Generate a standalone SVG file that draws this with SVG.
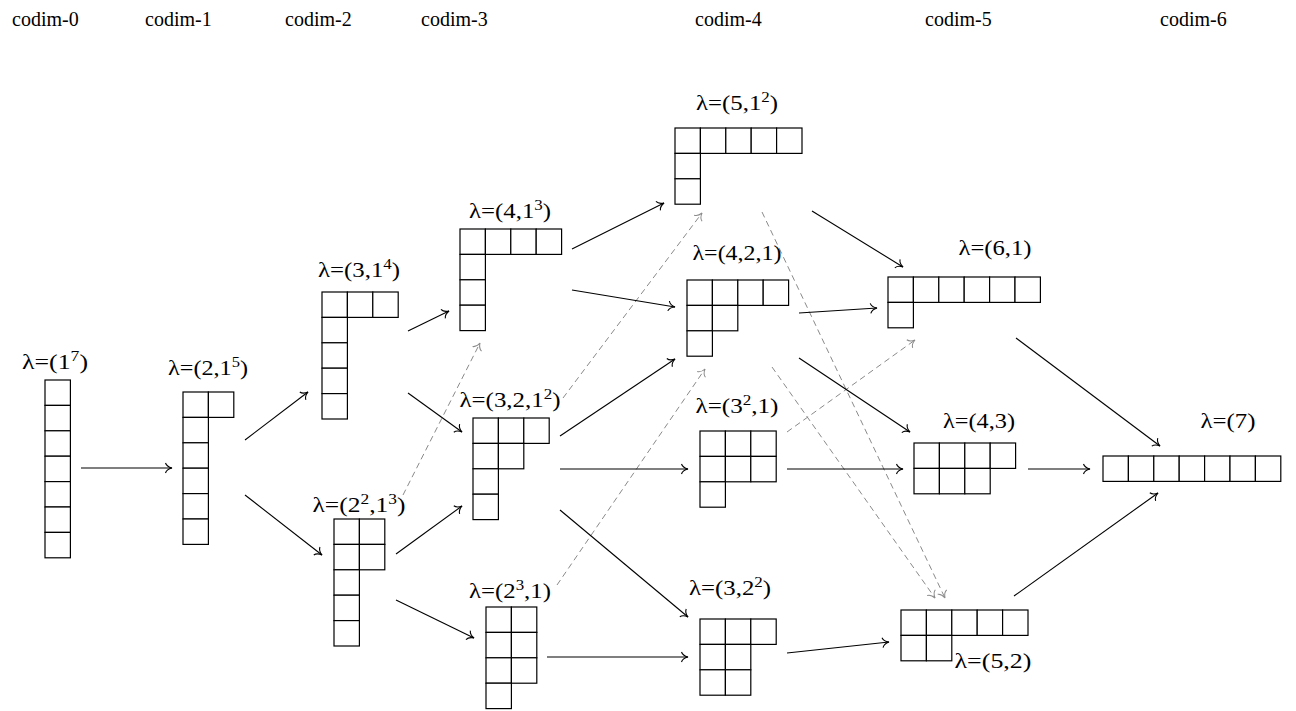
<svg xmlns="http://www.w3.org/2000/svg" width="1296" height="711" viewBox="0 0 1296 711">
<style>
  .c { fill: #fff; stroke: #000; stroke-width: 1.2; }
  .t { font-size: 22px; fill: #000; }
  .h { font-size: 20px; fill: #000; }
  .s { font-size: 15px; }
  .e { fill: none; stroke: #000; stroke-width: 1.1; marker-end: url(#ah); }
  .d { fill: none; stroke: #8a8a8a; stroke-width: 1; stroke-dasharray: 6 4; marker-end: url(#ahg); }
</style>
<defs>
  <marker id="ah" viewBox="-8 -7 10 14" markerUnits="userSpaceOnUse" markerWidth="10" markerHeight="14" refX="0" refY="0" orient="auto">
    <path d="M-6.5,-5 C-5.5,-1.8 -2.5,-0.6 0,0 C-2.5,0.6 -5.5,1.8 -6.5,5" fill="none" stroke="#000" stroke-width="1.1"/>
  </marker>
  <marker id="ahg" viewBox="-8 -7 10 14" markerUnits="userSpaceOnUse" markerWidth="10" markerHeight="14" refX="0" refY="0" orient="auto">
    <path d="M-6.5,-5 C-5.5,-1.8 -2.5,-0.6 0,0 C-2.5,0.6 -5.5,1.8 -6.5,5" fill="none" stroke="#8a8a8a" stroke-width="1"/>
  </marker>
</defs>
<rect width="1296" height="711" fill="#fff"/>

<g id="headers" class="h" font-family="'Liberation Serif', 'DejaVu Serif', serif">
  <text x="12" y="26">codim-0</text>
  <text x="145" y="26">codim-1</text>
  <text x="285" y="26">codim-2</text>
  <text x="421" y="26">codim-3</text>
  <text x="695" y="26">codim-4</text>
  <text x="925" y="26">codim-5</text>
  <text x="1160" y="26">codim-6</text>
</g>

<g id="connectors">
  <g id="dashed">
    <line class="d" x1="403" y1="495" x2="480" y2="343"/>
    <line class="d" x1="563" y1="398" x2="702" y2="213"/>
    <line class="d" x1="557" y1="585" x2="705" y2="369"/>
    <line class="d" x1="762" y1="212" x2="945" y2="598"/>
    <line class="d" x1="772" y1="367" x2="935" y2="598"/>
    <line class="d" x1="787" y1="432" x2="915" y2="340"/>
  </g>
  <g id="solid">
    <line class="e" x1="81" y1="468" x2="172" y2="468"/>
    <line class="e" x1="245" y1="440" x2="308" y2="392"/>
    <line class="e" x1="245" y1="495" x2="322" y2="555"/>
    <line class="e" x1="408" y1="331" x2="449" y2="311"/>
    <line class="e" x1="408" y1="393" x2="462" y2="432"/>
    <line class="e" x1="396" y1="554" x2="462" y2="506"/>
    <line class="e" x1="396" y1="600" x2="474" y2="638"/>
    <line class="e" x1="572" y1="249" x2="664" y2="203"/>
    <line class="e" x1="572" y1="290" x2="675" y2="307"/>
    <line class="e" x1="560" y1="436" x2="675" y2="359"/>
    <line class="e" x1="560" y1="469" x2="688" y2="469"/>
    <line class="e" x1="560" y1="510" x2="688" y2="617"/>
    <line class="e" x1="547" y1="657" x2="688" y2="657"/>
    <line class="e" x1="812" y1="211" x2="903" y2="267"/>
    <line class="e" x1="799" y1="313" x2="877" y2="308"/>
    <line class="e" x1="799" y1="358" x2="910" y2="432"/>
    <line class="e" x1="787" y1="469" x2="903" y2="469"/>
    <line class="e" x1="787" y1="653" x2="889" y2="642"/>
    <line class="e" x1="1016" y1="338" x2="1160" y2="446"/>
    <line class="e" x1="1028" y1="469" x2="1090" y2="469"/>
    <line class="e" x1="1014" y1="596" x2="1158" y2="493"/>
  </g>
</g>

<g id="nodes" font-family="'Liberation Serif', 'DejaVu Serif', serif">
<g id="n-1-7">
  <text class="t" x="55" y="369" text-anchor="middle" textLength="66" lengthAdjust="spacingAndGlyphs">λ=(1<tspan class="s" dy="-8">7</tspan><tspan dy="8">)</tspan></text>
  <rect class="c" x="45" y="380" width="25.4" height="25.4"/>
  <rect class="c" x="45" y="405.4" width="25.4" height="25.4"/>
  <rect class="c" x="45" y="430.8" width="25.4" height="25.4"/>
  <rect class="c" x="45" y="456.2" width="25.4" height="25.4"/>
  <rect class="c" x="45" y="481.6" width="25.4" height="25.4"/>
  <rect class="c" x="45" y="507" width="25.4" height="25.4"/>
  <rect class="c" x="45" y="532.4" width="25.4" height="25.4"/>
</g>

<g id="n-2-1-5">
  <text class="t" x="208" y="375" text-anchor="middle" textLength="80" lengthAdjust="spacingAndGlyphs">λ=(2,1<tspan class="s" dy="-8">5</tspan><tspan dy="8">)</tspan></text>
  <rect class="c" x="183" y="392" width="25.4" height="25.4"/>
  <rect class="c" x="208.4" y="392" width="25.4" height="25.4"/>
  <rect class="c" x="183" y="417.4" width="25.4" height="25.4"/>
  <rect class="c" x="183" y="442.8" width="25.4" height="25.4"/>
  <rect class="c" x="183" y="468.2" width="25.4" height="25.4"/>
  <rect class="c" x="183" y="493.6" width="25.4" height="25.4"/>
  <rect class="c" x="183" y="519" width="25.4" height="25.4"/>
</g>

<g id="n-3-1-4">
  <text class="t" x="359" y="277" text-anchor="middle" textLength="82" lengthAdjust="spacingAndGlyphs">λ=(3,1<tspan class="s" dy="-8">4</tspan><tspan dy="8">)</tspan></text>
  <rect class="c" x="322" y="292" width="25.4" height="25.4"/>
  <rect class="c" x="347.4" y="292" width="25.4" height="25.4"/>
  <rect class="c" x="372.8" y="292" width="25.4" height="25.4"/>
  <rect class="c" x="322" y="317.4" width="25.4" height="25.4"/>
  <rect class="c" x="322" y="342.8" width="25.4" height="25.4"/>
  <rect class="c" x="322" y="368.2" width="25.4" height="25.4"/>
  <rect class="c" x="322" y="393.6" width="25.4" height="25.4"/>
</g>

<g id="n-4-1-3">
  <text class="t" x="510" y="218" text-anchor="middle" textLength="82" lengthAdjust="spacingAndGlyphs">λ=(4,1<tspan class="s" dy="-8">3</tspan><tspan dy="8">)</tspan></text>
  <rect class="c" x="460" y="229" width="25.4" height="25.4"/>
  <rect class="c" x="485.4" y="229" width="25.4" height="25.4"/>
  <rect class="c" x="510.8" y="229" width="25.4" height="25.4"/>
  <rect class="c" x="536.2" y="229" width="25.4" height="25.4"/>
  <rect class="c" x="460" y="254.4" width="25.4" height="25.4"/>
  <rect class="c" x="460" y="279.8" width="25.4" height="25.4"/>
  <rect class="c" x="460" y="305.2" width="25.4" height="25.4"/>
</g>

<g id="n-2-2-1-3">
  <text class="t" x="359" y="512" text-anchor="middle" textLength="93" lengthAdjust="spacingAndGlyphs">λ=(2<tspan class="s" dy="-8">2</tspan><tspan dy="8">,1</tspan><tspan class="s" dy="-8">3</tspan><tspan dy="8">)</tspan></text>
  <rect class="c" x="334" y="519" width="25.4" height="25.4"/>
  <rect class="c" x="359.4" y="519" width="25.4" height="25.4"/>
  <rect class="c" x="334" y="544.4" width="25.4" height="25.4"/>
  <rect class="c" x="359.4" y="544.4" width="25.4" height="25.4"/>
  <rect class="c" x="334" y="569.8" width="25.4" height="25.4"/>
  <rect class="c" x="334" y="595.2" width="25.4" height="25.4"/>
  <rect class="c" x="334" y="620.6" width="25.4" height="25.4"/>
</g>

<g id="n-3-2-1-2">
  <text class="t" x="510" y="407" text-anchor="middle" textLength="101" lengthAdjust="spacingAndGlyphs">λ=(3,2,1<tspan class="s" dy="-8">2</tspan><tspan dy="8">)</tspan></text>
  <rect class="c" x="473" y="418" width="25.4" height="25.4"/>
  <rect class="c" x="498.4" y="418" width="25.4" height="25.4"/>
  <rect class="c" x="523.8" y="418" width="25.4" height="25.4"/>
  <rect class="c" x="473" y="443.4" width="25.4" height="25.4"/>
  <rect class="c" x="498.4" y="443.4" width="25.4" height="25.4"/>
  <rect class="c" x="473" y="468.8" width="25.4" height="25.4"/>
  <rect class="c" x="473" y="494.2" width="25.4" height="25.4"/>
</g>

<g id="n-2-3-1">
  <text class="t" x="510" y="598" text-anchor="middle" textLength="82" lengthAdjust="spacingAndGlyphs">λ=(2<tspan class="s" dy="-8">3</tspan><tspan dy="8">,1)</tspan></text>
  <rect class="c" x="486" y="607" width="25.4" height="25.4"/>
  <rect class="c" x="511.4" y="607" width="25.4" height="25.4"/>
  <rect class="c" x="486" y="632.4" width="25.4" height="25.4"/>
  <rect class="c" x="511.4" y="632.4" width="25.4" height="25.4"/>
  <rect class="c" x="486" y="657.8" width="25.4" height="25.4"/>
  <rect class="c" x="511.4" y="657.8" width="25.4" height="25.4"/>
  <rect class="c" x="486" y="683.2" width="25.4" height="25.4"/>
</g>

<g id="n-5-1-2">
  <text class="t" x="737" y="110" text-anchor="middle" textLength="82" lengthAdjust="spacingAndGlyphs">λ=(5,1<tspan class="s" dy="-8">2</tspan><tspan dy="8">)</tspan></text>
  <rect class="c" x="675" y="128" width="25.4" height="25.4"/>
  <rect class="c" x="700.4" y="128" width="25.4" height="25.4"/>
  <rect class="c" x="725.8" y="128" width="25.4" height="25.4"/>
  <rect class="c" x="751.2" y="128" width="25.4" height="25.4"/>
  <rect class="c" x="776.6" y="128" width="25.4" height="25.4"/>
  <rect class="c" x="675" y="153.4" width="25.4" height="25.4"/>
  <rect class="c" x="675" y="178.8" width="25.4" height="25.4"/>
</g>

<g id="n-4-2-1">
  <text class="t" x="737" y="260" text-anchor="middle" textLength="89" lengthAdjust="spacingAndGlyphs">λ=(4,2,1)</text>
  <rect class="c" x="687" y="280" width="25.4" height="25.4"/>
  <rect class="c" x="712.4" y="280" width="25.4" height="25.4"/>
  <rect class="c" x="737.8" y="280" width="25.4" height="25.4"/>
  <rect class="c" x="763.2" y="280" width="25.4" height="25.4"/>
  <rect class="c" x="687" y="305.4" width="25.4" height="25.4"/>
  <rect class="c" x="712.4" y="305.4" width="25.4" height="25.4"/>
  <rect class="c" x="687" y="330.8" width="25.4" height="25.4"/>
</g>

<g id="n-3-2-1">
  <text class="t" x="737" y="413" text-anchor="middle" textLength="83" lengthAdjust="spacingAndGlyphs">λ=(3<tspan class="s" dy="-8">2</tspan><tspan dy="8">,1)</tspan></text>
  <rect class="c" x="700" y="431" width="25.4" height="25.4"/>
  <rect class="c" x="725.4" y="431" width="25.4" height="25.4"/>
  <rect class="c" x="750.8" y="431" width="25.4" height="25.4"/>
  <rect class="c" x="700" y="456.4" width="25.4" height="25.4"/>
  <rect class="c" x="725.4" y="456.4" width="25.4" height="25.4"/>
  <rect class="c" x="750.8" y="456.4" width="25.4" height="25.4"/>
  <rect class="c" x="700" y="481.8" width="25.4" height="25.4"/>
</g>

<g id="n-3-2-2">
  <text class="t" x="730" y="595" text-anchor="middle" textLength="82" lengthAdjust="spacingAndGlyphs">λ=(3,2<tspan class="s" dy="-8">2</tspan><tspan dy="8">)</tspan></text>
  <rect class="c" x="700" y="619" width="25.4" height="25.4"/>
  <rect class="c" x="725.4" y="619" width="25.4" height="25.4"/>
  <rect class="c" x="750.8" y="619" width="25.4" height="25.4"/>
  <rect class="c" x="700" y="644.4" width="25.4" height="25.4"/>
  <rect class="c" x="725.4" y="644.4" width="25.4" height="25.4"/>
  <rect class="c" x="700" y="669.8" width="25.4" height="25.4"/>
  <rect class="c" x="725.4" y="669.8" width="25.4" height="25.4"/>
</g>

<g id="n-6-1">
  <text class="t" x="995" y="255" text-anchor="middle" textLength="73" lengthAdjust="spacingAndGlyphs">λ=(6,1)</text>
  <rect class="c" x="888" y="277" width="25.4" height="25.4"/>
  <rect class="c" x="913.4" y="277" width="25.4" height="25.4"/>
  <rect class="c" x="938.8" y="277" width="25.4" height="25.4"/>
  <rect class="c" x="964.2" y="277" width="25.4" height="25.4"/>
  <rect class="c" x="989.6" y="277" width="25.4" height="25.4"/>
  <rect class="c" x="1015" y="277" width="25.4" height="25.4"/>
  <rect class="c" x="888" y="302.4" width="25.4" height="25.4"/>
</g>

<g id="n-4-3">
  <text class="t" x="979" y="428" text-anchor="middle" textLength="72" lengthAdjust="spacingAndGlyphs">λ=(4,3)</text>
  <rect class="c" x="914" y="443" width="25.4" height="25.4"/>
  <rect class="c" x="939.4" y="443" width="25.4" height="25.4"/>
  <rect class="c" x="964.8" y="443" width="25.4" height="25.4"/>
  <rect class="c" x="990.2" y="443" width="25.4" height="25.4"/>
  <rect class="c" x="914" y="468.4" width="25.4" height="25.4"/>
  <rect class="c" x="939.4" y="468.4" width="25.4" height="25.4"/>
  <rect class="c" x="964.8" y="468.4" width="25.4" height="25.4"/>
</g>

<g id="n-5-2">
  <rect class="c" x="901" y="610" width="25.4" height="25.4"/>
  <rect class="c" x="926.4" y="610" width="25.4" height="25.4"/>
  <rect class="c" x="951.8" y="610" width="25.4" height="25.4"/>
  <rect class="c" x="977.2" y="610" width="25.4" height="25.4"/>
  <rect class="c" x="1002.6" y="610" width="25.4" height="25.4"/>
  <rect class="c" x="901" y="635.4" width="25.4" height="25.4"/>
  <rect class="c" x="926.4" y="635.4" width="25.4" height="25.4"/>
  <text class="t" x="993" y="668" text-anchor="middle" textLength="77" lengthAdjust="spacingAndGlyphs">λ=(5,2)</text>
</g>

<g id="n-7">
  <text class="t" x="1228" y="428" text-anchor="middle" textLength="55" lengthAdjust="spacingAndGlyphs">λ=(7)</text>
  <rect class="c" x="1103" y="456" width="25.4" height="25.4"/>
  <rect class="c" x="1128.4" y="456" width="25.4" height="25.4"/>
  <rect class="c" x="1153.8" y="456" width="25.4" height="25.4"/>
  <rect class="c" x="1179.2" y="456" width="25.4" height="25.4"/>
  <rect class="c" x="1204.6" y="456" width="25.4" height="25.4"/>
  <rect class="c" x="1230" y="456" width="25.4" height="25.4"/>
  <rect class="c" x="1255.4" y="456" width="25.4" height="25.4"/>
</g>
</g>
</svg>
